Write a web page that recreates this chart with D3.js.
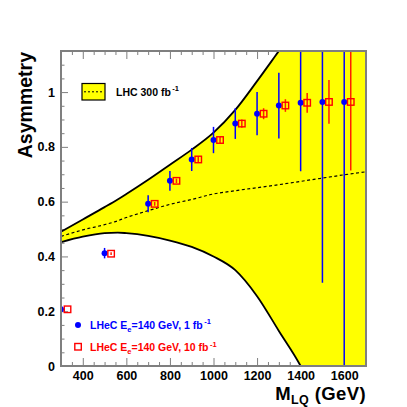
<!DOCTYPE html>
<html>
<head>
<meta charset="utf-8">
<script src="https://cdn.jsdelivr.net/npm/d3@7"></script>
<style>
  body { margin: 0; background: #fff; }
  svg { font-family: "Liberation Sans", Arial, sans-serif; font-weight: bold; }
</style>
</head>
<body>
<svg id="chart"></svg>
<script>
// LHC 300 fb-1 band (mass in GeV, asymmetry)
const bandMass  = [300, 400, 500, 560, 600, 700, 800, 900, 1000, 1100, 1200, 1300, 1400, 1500, 1600, 1700];
const bandUpper = [0.49, 0.535, 0.58, 0.608, 0.628, 0.68, 0.735, 0.79, 0.852, 0.935, 1.04, 1.15, 1.26, 1.37, 1.48, 1.6];
const bandLower = [0.452, 0.472, 0.485, 0.487, 0.485, 0.475, 0.458, 0.435, 0.4, 0.35, 0.255, 0.128, 0.0, -0.17, -0.35, -0.55];
const bandCentral = [0.473, 0.497, 0.516, 0.53, 0.542, 0.567, 0.59, 0.608, 0.628, 0.64, 0.651, 0.662, 0.674, 0.686, 0.698, 0.709];

// LHeC points
const lqMass = [300, 500, 700, 800, 900, 1000, 1100, 1200, 1300, 1400, 1500, 1600];
const asym1fb  = [0.207, 0.412, 0.592, 0.676, 0.754, 0.825, 0.885, 0.921, 0.951, 0.961, 0.964, 0.964];
const err1fb   = [0.01, 0.019, 0.031, 0.036, 0.042, 0.048, 0.056, 0.079, 0.12, 0.25, 0.66, 1.0];
const asym10fb = [0.207, 0.41, 0.592, 0.676, 0.754, 0.825, 0.885, 0.921, 0.951, 0.961, 0.964, 0.964];
const err10fb  = [0.0, 0.005, 0.007, 0.008, 0.01, 0.012, 0.015, 0.02, 0.023, 0.036, 0.08, 0.25];
const shift10fb = 30; // 10 fb-1 points drawn slightly to the right

const xTicks = [400, 600, 800, 1000, 1200, 1400, 1600];
const yTicks = [0, 0.2, 0.4, 0.6, 0.8, 1];

const width = 407;
const height = 407;
const margin = { top: 51, right: 41, bottom: 41, left: 61 };

const svg = d3.select("#chart")
    .attr("width", width)
    .attr("height", height);

const x = d3.scaleLinear()
    .domain([300, 1700])
    .range([margin.left, width - margin.right]);

const y = d3.scaleLinear()
    .domain([0, 1.15])
    .range([height - margin.bottom, margin.top]);

const frameColor = "#7f7f7f";

svg.append("defs").append("clipPath")
    .attr("id", "plotClip")
  .append("rect")
    .attr("x", margin.left)
    .attr("y", margin.top)
    .attr("width", x.range()[1] - x.range()[0])
    .attr("height", y.range()[0] - y.range()[1]);

// ticks first (the band covers them)
function styleAxis(g) {
  g.select(".domain").remove();
  g.selectAll("line").attr("stroke", frameColor).attr("stroke-width", 1);
  g.selectAll("text")
    .attr("fill", "#000")
    .style("font-size", "12.5px")
    .style("font-weight", "bold")
    .style("font-family", "'Liberation Sans', Arial, sans-serif");
}

const xMinor = d3.range(300, 1701, 50).filter(v => !xTicks.includes(v));
const yMinor = d3.range(0, 1.151, 0.05).filter(v => !yTicks.some(t => Math.abs(t - v) < 1e-6));

svg.append("g")
    .attr("transform", `translate(0, ${y(0)})`)
    .call(d3.axisBottom(x).tickValues(xTicks).tickSize(-8).tickPadding(5).tickFormat(d3.format("d")))
    .call(styleAxis);
svg.append("g")
    .attr("transform", `translate(0, ${y(0)})`)
    .call(d3.axisBottom(x).tickValues(xMinor).tickSize(-4).tickFormat(""))
    .call(styleAxis);
svg.append("g")
    .attr("transform", `translate(0, ${margin.top})`)
    .call(d3.axisTop(x).tickValues(xTicks).tickSize(-8).tickFormat(""))
    .call(styleAxis);
svg.append("g")
    .attr("transform", `translate(0, ${margin.top})`)
    .call(d3.axisTop(x).tickValues(xMinor).tickSize(-4).tickFormat(""))
    .call(styleAxis);

svg.append("g")
    .attr("transform", `translate(${margin.left}, 0)`)
    .call(d3.axisLeft(y).tickValues(yTicks).tickSize(-7).tickPadding(6).tickFormat(d3.format("~g")))
    .call(styleAxis);
svg.append("g")
    .attr("transform", `translate(${margin.left}, 0)`)
    .call(d3.axisLeft(y).tickValues(yMinor).tickSize(-3.5).tickFormat(""))
    .call(styleAxis);

// LHC band
const band = bandMass.map((m, i) => ({ m, lo: bandLower[i], hi: bandUpper[i], c: bandCentral[i] }));
const plot = svg.append("g").attr("clip-path", "url(#plotClip)");

plot.append("path")
    .datum(band)
    .attr("fill", "#ffff00")
    .attr("d", d3.area()
        .x(d => x(d.m))
        .y0(d => y(d.lo))
        .y1(d => y(d.hi))
        .curve(d3.curveMonotoneX));

["hi", "lo"].forEach(key => {
  plot.append("path")
      .datum(band)
      .attr("fill", "none")
      .attr("stroke", "#000")
      .attr("stroke-width", 1.8)
      .attr("d", d3.line().x(d => x(d.m)).y(d => y(d[key])).curve(d3.curveMonotoneX));
});

plot.append("path")
    .datum(band)
    .attr("fill", "none")
    .attr("stroke", "#000")
    .attr("stroke-width", 1.2)
    .attr("stroke-dasharray", "3,2.5")
    .attr("d", d3.line().x(d => x(d.m)).y(d => y(d.c)).curve(d3.curveMonotoneX));

// LHeC 1 fb-1 (blue dots) and 10 fb-1 (red open squares)
const pts1 = lqMass.map((m, i) => ({ m, v: asym1fb[i], e: err1fb[i] }));
const pts10 = lqMass.map((m, i) => ({ m: m + shift10fb, v: asym10fb[i], e: err10fb[i] }));

plot.selectAll(".err1")
    .data(pts1)
    .enter()
    .append("line")
    .attr("x1", d => x(d.m)).attr("x2", d => x(d.m))
    .attr("y1", d => y(d.v - d.e)).attr("y2", d => y(d.v + d.e))
    .attr("stroke", "#0000ff")
    .attr("stroke-width", 1.5);

plot.selectAll(".err10")
    .data(pts10)
    .enter()
    .append("line")
    .attr("x1", d => x(d.m)).attr("x2", d => x(d.m))
    .attr("y1", d => y(d.v - d.e)).attr("y2", d => y(d.v + d.e))
    .attr("stroke", "#ff2000")
    .attr("stroke-width", 1.5);

plot.selectAll(".dot")
    .data(pts1)
    .enter()
    .append("circle")
    .attr("cx", d => x(d.m))
    .attr("cy", d => y(d.v))
    .attr("r", 3)
    .attr("fill", "#0000ff");

const sq = 6.5;
plot.selectAll(".sq")
    .data(pts10)
    .enter()
    .append("rect")
    .attr("x", d => x(d.m) - sq / 2)
    .attr("y", d => y(d.v) - sq / 2)
    .attr("width", sq)
    .attr("height", sq)
    .attr("fill", "none")
    .attr("stroke", "#ff0000")
    .attr("stroke-width", 1.4);

// frame
svg.append("rect")
    .attr("x", margin.left)
    .attr("y", margin.top)
    .attr("width", x.range()[1] - x.range()[0])
    .attr("height", y.range()[0] - y.range()[1])
    .attr("fill", "none")
    .attr("stroke", frameColor)
    .attr("stroke-width", 2);

// legend: LHC band
const lg = svg.append("g");
lg.append("rect")
    .attr("x", 82).attr("y", 83.5).attr("width", 23).attr("height", 16.5)
    .attr("fill", "#ffff00").attr("stroke", "#000").attr("stroke-width", 1.2);
lg.append("line")
    .attr("x1", 84).attr("x2", 104).attr("y1", 91.8).attr("y2", 91.8)
    .attr("stroke", "#000").attr("stroke-width", 1).attr("stroke-dasharray", "2,2");
const lt = lg.append("text").attr("x", 116).attr("y", 95.5).style("font-size", "10.5px");
lt.append("tspan").text("LHC 300 fb");
lt.append("tspan").attr("dy", -4.5).attr("dx", 1.5).style("font-size", "7.5px").text("-1");

// legend: LHeC
function lhecLabel(g, yPos, color, lumi) {
  const t = g.append("text").attr("x", 90).attr("y", yPos).attr("fill", color).style("font-size", "10.5px");
  t.append("tspan").text("LHeC E");
  t.append("tspan").attr("dy", 3).style("font-size", "7.5px").text("e");
  t.append("tspan").attr("dy", -3).text(`=140 GeV, ${lumi} fb`);
  t.append("tspan").attr("dy", -4.5).attr("dx", 1.5).style("font-size", "7.5px").text("-1");
}
lg.append("circle").attr("cx", 78).attr("cy", 325).attr("r", 3).attr("fill", "#0000ff");
lhecLabel(lg, 328.5, "#0000ff", 1);
lg.append("rect").attr("x", 74.8).attr("y", 343.5).attr("width", sq).attr("height", sq)
    .attr("fill", "none").attr("stroke", "#ff0000").attr("stroke-width", 1.4);
lhecLabel(lg, 351, "#ff0000", 10);

// axis titles
svg.append("text")
    .attr("transform", `translate(32, ${margin.top + 1}) rotate(-90)`)
    .attr("text-anchor", "end")
    .style("font-size", "19.5px")
    .text("Asymmetry");

const xt = svg.append("text")
    .attr("x", x.range()[1])
    .attr("y", 400)
    .attr("text-anchor", "end")
    .style("font-size", "18.5px")
    .style("letter-spacing", "0.4px");
xt.append("tspan").text("M");
xt.append("tspan").attr("dy", 4).style("font-size", "12.5px").text("LQ");
xt.append("tspan").attr("dy", -4).text(" (GeV)");
</script>
</body>
</html>
